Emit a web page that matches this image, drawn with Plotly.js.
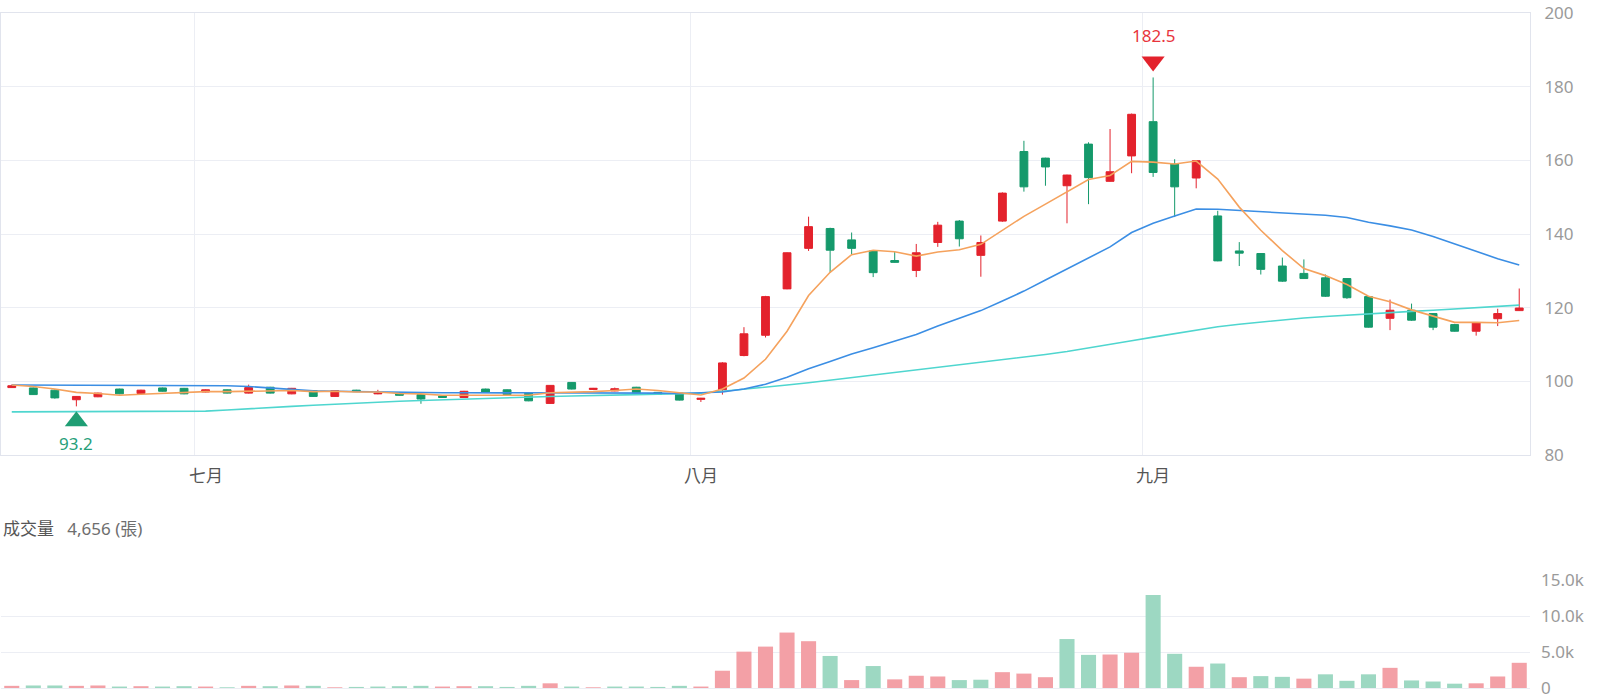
<!DOCTYPE html>
<html>
<head>
<meta charset="utf-8">
<script src="https://cdn.plot.ly/plotly-3.0.1.min.js"></script>
<style>
  html, body { margin: 0; padding: 0; background: #ffffff; }
  #chart { width: 1600px; height: 700px; }
</style>
</head>
<body>
<div id="chart"></div>
<script>
// ---------------- data ----------------
const dates = [
  "06/18","06/19","06/20","06/23","06/24","06/25","06/26","06/27","06/30",
  "07/01","07/02","07/03","07/04","07/07","07/08","07/09","07/10","07/11","07/14","07/15","07/16","07/17","07/18","07/21","07/22","07/23","07/24","07/25","07/28","07/29","07/30","07/31",
  "08/01","08/04","08/05","08/06","08/07","08/08","08/11","08/12","08/13","08/14","08/15","08/18","08/19","08/20","08/21","08/22","08/25","08/26","08/27","08/28","08/29",
  "09/01","09/02","09/03","09/04","09/05","09/08","09/09","09/10","09/11","09/12","09/15","09/16","09/17","09/18","09/19","09/22","09/23","09/24"
];
const monthLabels = { "07": "七月", "08": "八月", "09": "九月" };

const open = [
  98.3, 98.2, 97.6, 95.0, 95.8, 97.9, 96.7, 98.2, 98.1,
  97.1, 97.7, 96.8, 98.4, 96.6, 97.5, 95.9, 97.6, 96.6, 96.8, 96.4, 96.0, 95.6, 97.9, 97.7, 96.8, 94.0, 99.7, 97.8, 97.4, 98.4, 97.0, 96.8,
  95.1, 97.7, 107.0, 112.5, 125.1, 136.1, 141.5, 138.4, 135.4, 132.8, 130.1, 137.7, 143.5, 134.2, 143.5, 162.4, 160.6, 153.1, 164.4, 154.3, 161.2,
  170.5, 159.0, 155.2, 144.9, 135.4, 134.7, 131.3, 129.3, 128.1, 127.9, 123.0, 117.1, 119.3, 118.4, 115.4, 113.6, 117.0, 119.2
];
const high = [
  99.1, 98.3, 97.8, 96.0, 96.9, 98.0, 97.7, 98.3, 98.2,
  97.8, 97.8, 99.1, 98.5, 98.2, 97.6, 97.6, 97.7, 97.7, 96.9, 96.6, 96.1, 97.4, 98.0, 97.8, 96.9, 99.0, 99.8, 98.2, 98.3, 98.5, 97.1, 96.9,
  95.5, 105.2, 114.7, 123.2, 135.0, 144.7, 141.7, 140.4, 135.6, 135.1, 137.3, 143.3, 143.8, 139.6, 151.3, 165.3, 160.7, 156.1, 164.9, 168.5, 172.7,
  182.5, 160.3, 160.0, 146.3, 137.8, 134.8, 133.6, 133.1, 129.0, 128.0, 123.1, 122.2, 121.1, 118.5, 115.6, 116.1, 119.7, 125.2
];
const low = [
  98.2, 96.3, 95.3, 93.2, 95.7, 96.5, 96.6, 97.2, 96.5,
  97.0, 96.7, 96.7, 96.7, 96.5, 95.8, 95.8, 97.1, 96.5, 96.1, 93.9, 95.5, 95.5, 97.0, 96.3, 94.6, 93.9, 97.8, 97.7, 97.3, 96.7, 96.4, 94.8,
  94.4, 96.4, 106.8, 111.9, 125.0, 135.4, 129.5, 134.5, 128.3, 132.2, 128.3, 136.5, 136.6, 128.4, 143.3, 151.5, 153.1, 142.9, 148.1, 154.2, 156.5,
  155.5, 144.6, 152.4, 132.6, 131.3, 129.0, 127.0, 127.8, 122.9, 122.4, 114.6, 113.9, 116.4, 113.9, 113.5, 112.4, 115.0, 119.1
];
const close = [
  98.8, 96.4, 95.5, 95.9, 96.8, 96.6, 97.6, 97.3, 96.6,
  97.7, 96.8, 98.3, 96.8, 98.1, 95.9, 97.5, 97.2, 96.8, 96.2, 95.2, 95.6, 97.3, 97.1, 96.4, 94.7, 98.9, 97.9, 98.1, 98.0, 96.8, 96.5, 94.9,
  95.4, 105.0, 112.9, 123.0, 134.9, 142.0, 135.6, 136.1, 129.5, 132.3, 134.9, 142.4, 138.7, 137.7, 151.1, 152.8, 158.2, 156.0, 155.3, 156.9, 172.5,
  156.7, 152.8, 159.9, 132.7, 134.8, 130.4, 127.2, 127.9, 123.1, 122.7, 114.7, 119.3, 116.6, 114.7, 113.6, 115.9, 118.4, 119.9
];
const volume = [
  300, 350, 350, 300, 350, 200, 250, 200, 250,
  200, 100, 300, 250, 350, 300, 100, 150, 200, 250, 300, 200, 250, 250, 150, 300, 650, 200, 100, 200, 200, 150, 300,
  200, 2400, 5050, 5750, 7700, 6500, 4450, 1100, 3050, 1200, 1700, 1600, 1100, 1150, 2200, 2000, 1500, 6800, 4600, 4650, 4900,
  12900, 4750, 2950, 3400, 1500, 1650, 1550, 1300, 1900, 1000, 1900, 2800, 1050, 900, 600, 650, 1600, 3500
];
const ma5 = [
  99.0, 98.6, 97.9, 97.0, 96.7, 96.2, 96.5, 96.8, 97.0,
  97.2, 97.2, 97.3, 97.3, 97.5, 97.2, 97.3, 97.1, 97.1, 96.7, 96.6, 96.2, 96.2, 96.3, 96.3, 96.2, 96.9, 97.0, 97.2, 97.5, 97.9, 97.5, 96.9,
  96.3, 97.9, 100.9, 106.0, 113.6, 123.3, 129.6, 134.4, 135.6, 135.2, 134.0, 135.1, 135.7, 137.2, 141.1, 144.8, 148.1, 151.5, 154.8, 155.9, 159.7,
  159.5, 159.0, 159.8, 154.9, 147.3, 141.0, 135.5, 130.6, 128.7, 126.3, 123.1, 121.6, 119.4, 117.8, 116.0, 116.0, 115.9, 116.5
];
const ma20 = [
  99.0, 99.0, 99.0, 99.0, 99.0, 99.0, 99.0, 99.0, 99.0,
  98.9, 98.8, 98.6, 98.2, 97.8, 97.4, 97.3, 97.2, 97.1, 97.0, 97.0, 96.9, 96.9, 96.9, 96.9, 96.9, 97.0, 97.0, 97.0, 97.0, 96.9, 96.8, 96.7,
  96.8, 97.1, 97.9, 99.2, 101.1, 103.4, 105.4, 107.4, 109.1, 110.8, 112.7, 115.0, 117.2, 119.2, 121.8, 124.5, 127.5, 130.5, 133.4, 136.5, 140.4,
  142.9, 144.9, 146.8, 146.7, 146.4, 146.1, 145.7, 145.5, 145.1, 144.5, 143.2, 142.2, 141.1, 139.3, 137.3, 135.2, 133.3, 131.6
];
const ma60 = [
  91.7, 91.7, 91.7, 91.7, 91.7, 91.7, 91.7, 91.8, 91.8,
  91.9, 92.2, 92.6, 92.9, 93.2, 93.5, 93.8, 94.0, 94.3, 94.6, 94.8, 95.0, 95.2, 95.4, 95.6, 95.8, 95.9, 96.0, 96.2, 96.3, 96.4, 96.5, 96.6,
  96.8, 97.3, 97.8, 98.4, 99.0, 99.6, 100.3, 100.9, 101.6, 102.2, 102.9, 103.6, 104.3, 105.0, 105.7, 106.5, 107.3, 108.1, 109.0, 110.0, 111.0,
  112.0, 113.0, 114.0, 114.8, 115.5, 116.1, 116.7, 117.2, 117.6, 118.0, 118.4, 118.7, 119.0, 119.3, 119.6, 119.9, 120.3, 120.7
];
const volumeTitle = "成交量";
const volumeText = "4,656 (張)";
const priceTicks = [80, 100, 120, 140, 160, 180, 200];
const volTickVals = [0, 5000, 10000, 15000];
const volTickText = ["0", "5.0k", "10.0k", "15.0k"];

// ---------------- styling ----------------
const RED = "#e3222c", GREEN = "#15996b";
const VOL_RED = "#f3a0a6", VOL_GREEN = "#9dd8c2";
const GRID = "#eceef4", FRAME = "#e1e4ed";
const LABEL = "#9a9a9a";
const FONT = 'Noto Sans, "Noto Sans CJK TC", sans-serif';

const idx = dates.map((d, i) => i);

// month boundaries (first trading day of each month)
const monthStarts = [];
const monthText = [];
for (let i = 1; i < dates.length; i++) {
  const m = dates[i].slice(0, 2);
  if (m !== dates[i - 1].slice(0, 2)) { monthStarts.push(i); monthText.push(monthLabels[m]); }
}

const volColors = volume.map((v, i) => (i === 0 || close[i] >= close[i - 1]) ? VOL_RED : VOL_GREEN);

// highest high & lowest low
let iMax = 0, iMin = 0;
high.forEach((v, i) => { if (v > high[iMax]) iMax = i; });
low.forEach((v, i) => { if (v < low[iMin]) iMin = i; });

// layout geometry
const M = { l: 1, r: 70, t: 13, b: 12 };
const plotH = 700 - M.t - M.b;
const priceDomain = [0.3452, 1];
const volDomain = [0, 0.16];
const priceRange = [80, 200];
const pxPerUnit = plotH * (priceDomain[1] - priceDomain[0]) / (priceRange[1] - priceRange[0]);

const traces = [
  {
    type: "candlestick", x: idx, open: open, high: high, low: low, close: close,
    xaxis: "x", yaxis: "y", whiskerwidth: 0,
    increasing: { line: { color: RED, width: 1 }, fillcolor: RED },
    decreasing: { line: { color: GREEN, width: 1 }, fillcolor: GREEN },
    hoverinfo: "skip", showlegend: false
  },
  { type: "scatter", mode: "lines", x: idx, y: ma60, xaxis: "x", yaxis: "y",
    line: { color: "#4fd6cf", width: 1.6 }, hoverinfo: "skip" },
  { type: "scatter", mode: "lines", x: idx, y: ma20, xaxis: "x", yaxis: "y",
    line: { color: "#3b8ee4", width: 1.6 }, hoverinfo: "skip" },
  { type: "scatter", mode: "lines", x: idx, y: ma5, xaxis: "x", yaxis: "y",
    line: { color: "#f5a25d", width: 1.6 }, hoverinfo: "skip" },
  { type: "scatter", mode: "markers", x: [iMax], y: [high[iMax] + 16 / pxPerUnit],
    xaxis: "x", yaxis: "y", marker: { symbol: "triangle-down", size: 20, color: RED }, hoverinfo: "skip" },
  { type: "scatter", mode: "markers", x: [iMin], y: [low[iMin] - 15 / pxPerUnit],
    xaxis: "x", yaxis: "y", marker: { symbol: "triangle-up", size: 20, color: "#1f9e74" }, hoverinfo: "skip" },
  {
    type: "bar", x: idx, y: volume, xaxis: "x2", yaxis: "y2",
    marker: { color: volColors, line: { width: 0 } }, hoverinfo: "skip"
  }
];

const annotations = [
  { xref: "x", yref: "y", x: iMax, y: high[iMax], text: String(high[iMax].toFixed(1)), showarrow: false,
    yshift: 42, yanchor: "middle", font: { family: FONT, size: 17, color: "#e8343c" } },
  { xref: "x", yref: "y", x: iMin, y: low[iMin], text: String(low[iMin].toFixed(1)), showarrow: false,
    yshift: -37, yanchor: "middle", font: { family: FONT, size: 17, color: "#27a07a" } },
  { xref: "paper", yref: "paper", x: 0, y: (700 - M.b - 528) / plotH, xanchor: "left", yanchor: "middle",
    showarrow: false, align: "left",
    text: '<span style="color:#555">' + volumeTitle + '</span>&nbsp;&nbsp;&nbsp;<span style="color:#6e6e6e">' + volumeText + '</span>',
    font: { family: FONT, size: 17, color: "#555" } }
];
monthStarts.forEach((mi, k) => {
  annotations.push({ xref: "x", yref: "paper", x: mi, y: priceDomain[0], yshift: -21, yanchor: "middle",
    text: monthText[k], showarrow: false, font: { family: FONT, size: 17, color: "#555" } });
});

const layout = {
  width: 1600, height: 700,
  margin: M,
  paper_bgcolor: "#ffffff", plot_bgcolor: "#ffffff",
  showlegend: false,
  boxgap: 0.48, boxmode: "overlay", bargap: 0.3,
  font: { family: FONT, color: LABEL, size: 17 },
  xaxis: {
    domain: [0, 1], anchor: "y", range: [-0.5, dates.length - 0.5],
    tickmode: "array", tickvals: monthStarts.map(v => v - 0.5), showticklabels: false, ticks: "",
    showgrid: true, gridcolor: GRID, gridwidth: 1, zeroline: false,
    showline: true, mirror: true, linecolor: FRAME, linewidth: 1,
    rangeslider: { visible: false }, fixedrange: true
  },
  yaxis: {
    domain: priceDomain, anchor: "x", side: "right", range: priceRange,
    tickmode: "array", tickvals: priceTicks, ticks: "", ticklabelstandoff: 10,
    showgrid: true, gridcolor: GRID, zeroline: false,
    showline: true, mirror: true, linecolor: FRAME, linewidth: 1,
    tickfont: { family: FONT, size: 17, color: LABEL }, fixedrange: true
  },
  xaxis2: {
    domain: [0, 1], anchor: "y2", matches: "x", showticklabels: false, ticks: "",
    showgrid: false, zeroline: false, showline: true, linecolor: GRID, linewidth: 1,
    rangeslider: { visible: false }, fixedrange: true
  },
  yaxis2: {
    domain: volDomain, anchor: "x2", side: "right", range: [0, 15000],
    tickmode: "array", tickvals: volTickVals, ticktext: volTickText, ticks: "", ticklabelstandoff: 10,
    showgrid: true, gridcolor: GRID, zeroline: false, showline: false,
    tickfont: { family: FONT, size: 17, color: LABEL }, fixedrange: true
  },
  annotations: annotations
};

Plotly.newPlot("chart", traces, layout, { displayModeBar: false, staticPlot: true });
</script>
</body>
</html>
